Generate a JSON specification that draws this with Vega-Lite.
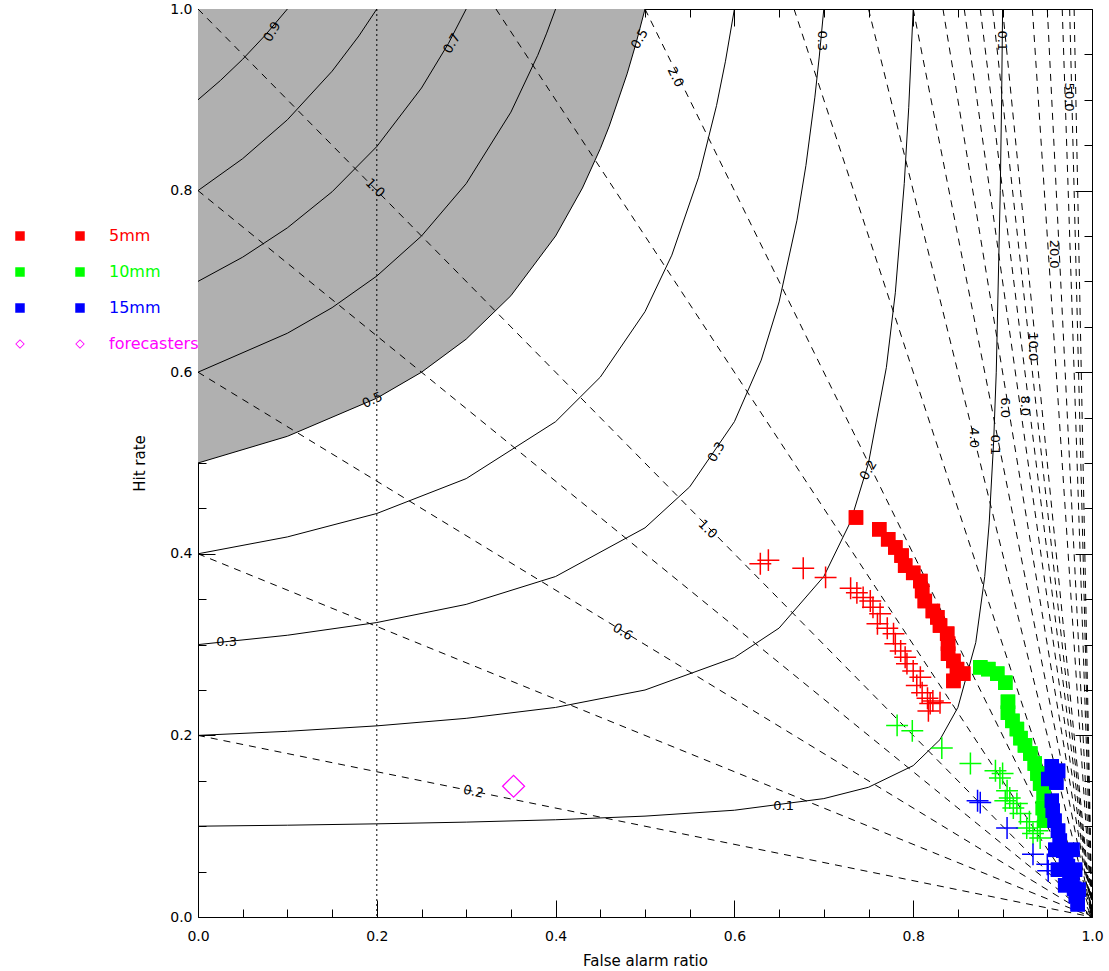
{
  "$schema": "https://vega.github.io/schema/vega-lite/v6.json",
  "autosize": "none",
  "width": 894,
  "height": 908,
  "padding": {"left": 198, "top": 9, "right": 17, "bottom": 54},
  "background": "white",
  "config": {
    "view": {"stroke": null},
    "font": "DejaVu Sans",
    "axis": {"grid": false, "labelFont": "DejaVu Sans", "labelFontSize": 14, "labelColor": "black", "titleFont": "DejaVu Sans", "titleFontSize": 15, "titleFontWeight": "normal", "titleColor": "black", "tickColor": "black", "domainColor": "black", "labelFlush": false, "labelOverlap": false, "zindex": 1}
  },
  "datasets": {
    "csi": [
      {"c": 0.1, "far": 0, "pod": 0.1}, {"c": 0.1, "far": 0.1, "pod": 0.1011}, {"c": 0.1, "far": 0.2, "pod": 0.1026}, {"c": 0.1, "far": 0.3, "pod": 0.1045}, {"c": 0.1, "far": 0.4, "pod": 0.1071}, {"c": 0.1, "far": 0.5, "pod": 0.1111}, {"c": 0.1, "far": 0.6, "pod": 0.1176}, {"c": 0.1, "far": 0.7, "pod": 0.1304}, {"c": 0.1, "far": 0.75, "pod": 0.1429}, {"c": 0.1, "far": 0.8, "pod": 0.1667}, {"c": 0.1, "far": 0.83, "pod": 0.1954}, {"c": 0.1, "far": 0.85, "pod": 0.2308}, {"c": 0.1, "far": 0.87, "pod": 0.3023}, {"c": 0.1, "far": 0.88, "pod": 0.375}, {"c": 0.1, "far": 0.885, "pod": 0.434}, {"c": 0.1, "far": 0.89, "pod": 0.5238}, {"c": 0.1, "far": 0.8929, "pod": 0.6}, {"c": 0.1, "far": 0.8974, "pod": 0.8}, {"c": 0.1, "far": 0.8989, "pod": 0.9}, {"c": 0.1, "far": 0.9, "pod": 1.0},
      {"c": 0.2, "far": 0, "pod": 0.2}, {"c": 0.2, "far": 0.1, "pod": 0.2045}, {"c": 0.2, "far": 0.2, "pod": 0.2105}, {"c": 0.2, "far": 0.3, "pod": 0.2188}, {"c": 0.2, "far": 0.4, "pod": 0.2308}, {"c": 0.2, "far": 0.5, "pod": 0.25}, {"c": 0.2, "far": 0.6, "pod": 0.2857}, {"c": 0.2, "far": 0.65, "pod": 0.3182}, {"c": 0.2, "far": 0.7, "pod": 0.375}, {"c": 0.2, "far": 0.73, "pod": 0.4355}, {"c": 0.2, "far": 0.75, "pod": 0.5}, {"c": 0.2, "far": 0.77, "pod": 0.6053}, {"c": 0.2, "far": 0.78, "pod": 0.6875}, {"c": 0.2, "far": 0.79, "pod": 0.8077}, {"c": 0.2, "far": 0.795, "pod": 0.8913}, {"c": 0.2, "far": 0.8, "pod": 1.0},
      {"c": 0.3, "far": 0, "pod": 0.3}, {"c": 0.3, "far": 0.1, "pod": 0.3103}, {"c": 0.3, "far": 0.2, "pod": 0.3243}, {"c": 0.3, "far": 0.3, "pod": 0.3443}, {"c": 0.3, "far": 0.4, "pod": 0.375}, {"c": 0.3, "far": 0.5, "pod": 0.4286}, {"c": 0.3, "far": 0.55, "pod": 0.4737}, {"c": 0.3, "far": 0.6, "pod": 0.5455}, {"c": 0.3, "far": 0.63, "pod": 0.6133}, {"c": 0.3, "far": 0.65, "pod": 0.6774}, {"c": 0.3, "far": 0.67, "pod": 0.7674}, {"c": 0.3, "far": 0.68, "pod": 0.8276}, {"c": 0.3, "far": 0.69, "pod": 0.9029}, {"c": 0.3, "far": 0.695, "pod": 0.9482}, {"c": 0.3, "far": 0.7, "pod": 1.0},
      {"c": 0.4, "far": 0, "pod": 0.4}, {"c": 0.4, "far": 0.1, "pod": 0.4186}, {"c": 0.4, "far": 0.2, "pod": 0.4444}, {"c": 0.4, "far": 0.3, "pod": 0.4828}, {"c": 0.4, "far": 0.4, "pod": 0.5455}, {"c": 0.4, "far": 0.45, "pod": 0.5946}, {"c": 0.4, "far": 0.5, "pod": 0.6667}, {"c": 0.4, "far": 0.53, "pod": 0.7289}, {"c": 0.4, "far": 0.56, "pod": 0.8148}, {"c": 0.4, "far": 0.58, "pod": 0.8936}, {"c": 0.4, "far": 0.59, "pod": 0.9425}, {"c": 0.4, "far": 0.6, "pod": 1.0},
      {"c": 0.5, "far": 0, "pod": 0.5}, {"c": 0.5, "far": 0.1, "pod": 0.5294}, {"c": 0.5, "far": 0.2, "pod": 0.5714}, {"c": 0.5, "far": 0.25, "pod": 0.6}, {"c": 0.5, "far": 0.3, "pod": 0.6364}, {"c": 0.5, "far": 0.35, "pod": 0.6842}, {"c": 0.5, "far": 0.4, "pod": 0.75}, {"c": 0.5, "far": 0.43, "pod": 0.8028}, {"c": 0.5, "far": 0.45, "pod": 0.8462}, {"c": 0.5, "far": 0.46, "pod": 0.871}, {"c": 0.5, "far": 0.48, "pod": 0.9286}, {"c": 0.5, "far": 0.49, "pod": 0.9623}, {"c": 0.5, "far": 0.5, "pod": 1.0},
      {"c": 0.6, "far": 0, "pod": 0.6}, {"c": 0.6, "far": 0.1, "pod": 0.6429}, {"c": 0.6, "far": 0.15, "pod": 0.6711}, {"c": 0.6, "far": 0.2, "pod": 0.7059}, {"c": 0.6, "far": 0.25, "pod": 0.75}, {"c": 0.6, "far": 0.3, "pod": 0.8077}, {"c": 0.6, "far": 0.35, "pod": 0.8864}, {"c": 0.6, "far": 0.38, "pod": 0.949}, {"c": 0.6, "far": 0.39, "pod": 0.9734}, {"c": 0.6, "far": 0.4, "pod": 1.0},
      {"c": 0.7, "far": 0, "pod": 0.7}, {"c": 0.7, "far": 0.05, "pod": 0.7267}, {"c": 0.7, "far": 0.1, "pod": 0.759}, {"c": 0.7, "far": 0.15, "pod": 0.7987}, {"c": 0.7, "far": 0.2, "pod": 0.8485}, {"c": 0.7, "far": 0.25, "pod": 0.913}, {"c": 0.7, "far": 0.28, "pod": 0.9618}, {"c": 0.7, "far": 0.3, "pod": 1.0},
      {"c": 0.8, "far": 0, "pod": 0.8}, {"c": 0.8, "far": 0.05, "pod": 0.8352}, {"c": 0.8, "far": 0.1, "pod": 0.878}, {"c": 0.8, "far": 0.15, "pod": 0.9315}, {"c": 0.8, "far": 0.18, "pod": 0.9704}, {"c": 0.8, "far": 0.2, "pod": 1.0},
      {"c": 0.9, "far": 0, "pod": 0.9}, {"c": 0.9, "far": 0.025, "pod": 0.9212}, {"c": 0.9, "far": 0.05, "pod": 0.9447}, {"c": 0.9, "far": 0.075, "pod": 0.9709}, {"c": 0.9, "far": 0.1, "pod": 1.0}
    ],
    "bias": [
      {"b": 0.2, "far": 0, "pod": 0.2}, {"b": 0.2, "far": 1, "pod": 0},
      {"b": 0.4, "far": 0, "pod": 0.4}, {"b": 0.4, "far": 1, "pod": 0},
      {"b": 0.6, "far": 0, "pod": 0.6}, {"b": 0.6, "far": 1, "pod": 0},
      {"b": 0.8, "far": 0, "pod": 0.8}, {"b": 0.8, "far": 1, "pod": 0},
      {"b": 1.0, "far": 0, "pod": 1.0}, {"b": 1.0, "far": 1, "pod": 0},
      {"b": 1.5, "far": 0.3333, "pod": 1.0}, {"b": 1.5, "far": 1, "pod": 0},
      {"b": 2, "far": 0.5, "pod": 1.0}, {"b": 2, "far": 1, "pod": 0},
      {"b": 3, "far": 0.6667, "pod": 1.0}, {"b": 3, "far": 1, "pod": 0},
      {"b": 4, "far": 0.75, "pod": 1.0}, {"b": 4, "far": 1, "pod": 0},
      {"b": 5, "far": 0.8, "pod": 1.0}, {"b": 5, "far": 1, "pod": 0},
      {"b": 6, "far": 0.8333, "pod": 1.0}, {"b": 6, "far": 1, "pod": 0},
      {"b": 7, "far": 0.8571, "pod": 1.0}, {"b": 7, "far": 1, "pod": 0},
      {"b": 8, "far": 0.875, "pod": 1.0}, {"b": 8, "far": 1, "pod": 0},
      {"b": 9, "far": 0.8889, "pod": 1.0}, {"b": 9, "far": 1, "pod": 0},
      {"b": 10, "far": 0.9, "pod": 1.0}, {"b": 10, "far": 1, "pod": 0},
      {"b": 15, "far": 0.9333, "pod": 1.0}, {"b": 15, "far": 1, "pod": 0},
      {"b": 20, "far": 0.95, "pod": 1.0}, {"b": 20, "far": 1, "pod": 0},
      {"b": 30, "far": 0.9667, "pod": 1.0}, {"b": 30, "far": 1, "pod": 0},
      {"b": 40, "far": 0.975, "pod": 1.0}, {"b": 40, "far": 1, "pod": 0},
      {"b": 50, "far": 0.98, "pod": 1.0}, {"b": 50, "far": 1, "pod": 0}
    ],
    "squares": [
      {"series": "5mm", "far": 0.736, "pod": 0.44}, {"series": "5mm", "far": 0.762, "pod": 0.427}, {"series": "5mm", "far": 0.772, "pod": 0.416}, {"series": "5mm", "far": 0.78, "pod": 0.407}, {"series": "5mm", "far": 0.787, "pod": 0.398}, {"series": "5mm", "far": 0.791, "pod": 0.387}, {"series": "5mm", "far": 0.8, "pod": 0.379}, {"series": "5mm", "far": 0.808, "pod": 0.37}, {"series": "5mm", "far": 0.81, "pod": 0.359}, {"series": "5mm", "far": 0.813, "pod": 0.348}, {"series": "5mm", "far": 0.822, "pod": 0.337}, {"series": "5mm", "far": 0.827, "pod": 0.33}, {"series": "5mm", "far": 0.83, "pod": 0.321}, {"series": "5mm", "far": 0.838, "pod": 0.312}, {"series": "5mm", "far": 0.839, "pod": 0.301}, {"series": "5mm", "far": 0.839, "pod": 0.29}, {"series": "5mm", "far": 0.845, "pod": 0.282}, {"series": "5mm", "far": 0.849, "pod": 0.273}, {"series": "5mm", "far": 0.856, "pod": 0.268}, {"series": "5mm", "far": 0.845, "pod": 0.26},
      {"series": "10mm", "far": 0.875, "pod": 0.275}, {"series": "10mm", "far": 0.884, "pod": 0.273}, {"series": "10mm", "far": 0.894, "pod": 0.268}, {"series": "10mm", "far": 0.903, "pod": 0.258}, {"series": "10mm", "far": 0.906, "pod": 0.237}, {"series": "10mm", "far": 0.906, "pod": 0.225}, {"series": "10mm", "far": 0.911, "pod": 0.216}, {"series": "10mm", "far": 0.916, "pod": 0.207}, {"series": "10mm", "far": 0.92, "pod": 0.197}, {"series": "10mm", "far": 0.925, "pod": 0.189}, {"series": "10mm", "far": 0.931, "pod": 0.18}, {"series": "10mm", "far": 0.936, "pod": 0.169}, {"series": "10mm", "far": 0.939, "pod": 0.158}, {"series": "10mm", "far": 0.942, "pod": 0.147}, {"series": "10mm", "far": 0.946, "pod": 0.136}, {"series": "10mm", "far": 0.945, "pod": 0.12}, {"series": "10mm", "far": 0.947, "pod": 0.106},
      {"series": "15mm", "far": 0.955, "pod": 0.166}, {"series": "15mm", "far": 0.962, "pod": 0.161}, {"series": "15mm", "far": 0.951, "pod": 0.152}, {"series": "15mm", "far": 0.96, "pod": 0.148}, {"series": "15mm", "far": 0.955, "pod": 0.128}, {"series": "15mm", "far": 0.956, "pod": 0.117}, {"series": "15mm", "far": 0.958, "pod": 0.106}, {"series": "15mm", "far": 0.962, "pod": 0.095}, {"series": "15mm", "far": 0.964, "pod": 0.084}, {"series": "15mm", "far": 0.959, "pod": 0.074}, {"series": "15mm", "far": 0.978, "pod": 0.074}, {"series": "15mm", "far": 0.968, "pod": 0.073}, {"series": "15mm", "far": 0.971, "pod": 0.064}, {"series": "15mm", "far": 0.973, "pod": 0.056}, {"series": "15mm", "far": 0.962, "pod": 0.052}, {"series": "15mm", "far": 0.981, "pod": 0.052}, {"series": "15mm", "far": 0.975, "pod": 0.049}, {"series": "15mm", "far": 0.978, "pod": 0.04}, {"series": "15mm", "far": 0.97, "pod": 0.035}, {"series": "15mm", "far": 0.985, "pod": 0.03}, {"series": "15mm", "far": 0.98, "pod": 0.031}, {"series": "15mm", "far": 0.982, "pod": 0.023}, {"series": "15mm", "far": 0.984, "pod": 0.014}
    ],
    "crosses": [
      {"series": "5mm", "far": 0.629, "pod": 0.389}, {"series": "5mm", "far": 0.638, "pod": 0.393}, {"series": "5mm", "far": 0.677, "pod": 0.384}, {"series": "5mm", "far": 0.702, "pod": 0.374}, {"series": "5mm", "far": 0.73, "pod": 0.362}, {"series": "5mm", "far": 0.737, "pod": 0.357}, {"series": "5mm", "far": 0.744, "pod": 0.352}, {"series": "5mm", "far": 0.752, "pod": 0.348}, {"series": "5mm", "far": 0.755, "pod": 0.341}, {"series": "5mm", "far": 0.763, "pod": 0.334}, {"series": "5mm", "far": 0.76, "pod": 0.323}, {"series": "5mm", "far": 0.771, "pod": 0.318}, {"series": "5mm", "far": 0.778, "pod": 0.312}, {"series": "5mm", "far": 0.78, "pod": 0.301}, {"series": "5mm", "far": 0.786, "pod": 0.293}, {"series": "5mm", "far": 0.791, "pod": 0.286}, {"series": "5mm", "far": 0.793, "pod": 0.279}, {"series": "5mm", "far": 0.8, "pod": 0.271}, {"series": "5mm", "far": 0.808, "pod": 0.264}, {"series": "5mm", "far": 0.804, "pod": 0.255}, {"series": "5mm", "far": 0.81, "pod": 0.247}, {"series": "5mm", "far": 0.816, "pod": 0.241}, {"series": "5mm", "far": 0.819, "pod": 0.235}, {"series": "5mm", "far": 0.822, "pod": 0.238}, {"series": "5mm", "far": 0.817, "pod": 0.227}, {"series": "5mm", "far": 0.83, "pod": 0.236},
      {"series": "10mm", "far": 0.782, "pod": 0.211}, {"series": "10mm", "far": 0.799, "pod": 0.205}, {"series": "10mm", "far": 0.832, "pod": 0.186}, {"series": "10mm", "far": 0.864, "pod": 0.169}, {"series": "10mm", "far": 0.892, "pod": 0.161}, {"series": "10mm", "far": 0.9, "pod": 0.158}, {"series": "10mm", "far": 0.897, "pod": 0.153}, {"series": "10mm", "far": 0.905, "pod": 0.139}, {"series": "10mm", "far": 0.908, "pod": 0.131}, {"series": "10mm", "far": 0.903, "pod": 0.128}, {"series": "10mm", "far": 0.916, "pod": 0.125}, {"series": "10mm", "far": 0.912, "pod": 0.12}, {"series": "10mm", "far": 0.92, "pod": 0.114}, {"series": "10mm", "far": 0.93, "pod": 0.105}, {"series": "10mm", "far": 0.927, "pod": 0.098}, {"series": "10mm", "far": 0.939, "pod": 0.095}, {"series": "10mm", "far": 0.934, "pod": 0.092}, {"series": "10mm", "far": 0.942, "pod": 0.087},
      {"series": "15mm", "far": 0.872, "pod": 0.128}, {"series": "15mm", "far": 0.875, "pod": 0.126}, {"series": "15mm", "far": 0.905, "pod": 0.098}, {"series": "15mm", "far": 0.934, "pod": 0.069}, {"series": "15mm", "far": 0.95, "pod": 0.058}, {"series": "15mm", "far": 0.951, "pod": 0.051}
    ],
    "fc": [{"series": "forecasters", "far": 0.353, "pod": 0.144}],
    "lab0": [{"t": "0.3", "far": 0.032, "pod": 0.303}, {"t": "0.1", "far": 0.655, "pod": 0.122}],
    "lab15": [{"t": "0.2", "far": 0.308, "pod": 0.138}],
    "lab30": [{"t": "0.6", "far": 0.475, "pod": 0.314}],
    "lab45": [{"t": "1.0", "far": 0.198, "pod": 0.803}, {"t": "1.0", "far": 0.57, "pod": 0.427}],
    "lab60": [{"t": "2.0", "far": 0.534, "pod": 0.925}],
    "lab90": [{"t": "4.0", "far": 0.868, "pod": 0.528}, {"t": "6.0", "far": 0.903, "pod": 0.561}, {"t": "8.0", "far": 0.925, "pod": 0.563}, {"t": "10.0", "far": 0.934, "pod": 0.628}, {"t": "20.0", "far": 0.957, "pod": 0.73}, {"t": "50.0", "far": 0.974, "pod": 0.903}, {"t": "0.1", "far": 0.891, "pod": 0.52}, {"t": "0.3", "far": 0.698, "pod": 0.965}, {"t": "0.1", "far": 0.899, "pod": 0.965}],
    "labm25": [{"t": "0.5", "far": 0.195, "pod": 0.569}],
    "labm60": [{"t": "0.9", "far": 0.083, "pod": 0.975}, {"t": "0.7", "far": 0.284, "pod": 0.962}, {"t": "0.5", "far": 0.494, "pod": 0.967}, {"t": "0.3", "far": 0.58, "pod": 0.512}, {"t": "0.2", "far": 0.75, "pod": 0.492}]
  },
  "resolve": {"scale": {"color": "independent", "shape": "independent"}, "axis": {"x": "independent", "y": "independent"}},
  "layer": [
    {
      "data": {"name": "csi"},
      "transform": [{"filter": "datum.c == 0.5"}],
      "mark": {"type": "area", "color": "#b0b0b0", "opacity": 1},
      "encoding": {
        "x": {"field": "far", "type": "quantitative", "scale": {"domain": [0, 1], "nice": false, "zero": false},
              "axis": {"orient": "bottom", "values": [0, 0.2, 0.4, 0.6, 0.8, 1], "format": ".1f", "ticks": false, "domain": true, "labelPadding": 12, "title": "False alarm ratio", "titlePadding": 10}},
        "y": {"field": "pod", "type": "quantitative", "scale": {"domain": [0, 1], "nice": false, "zero": false},
              "axis": {"orient": "left", "values": [0, 0.2, 0.4, 0.6, 0.8, 1], "format": ".1f", "ticks": false, "domain": true, "labelPadding": 6, "title": "Hit rate", "titlePadding": 22}},
        "y2": {"datum": 1}
      }
    },
    {
      "data": {"name": "csi"},
      "mark": {"type": "line", "color": "black", "strokeWidth": 1},
      "encoding": {
        "x": {"field": "far", "type": "quantitative", "axis": {"orient": "bottom", "values": [0, 0.2, 0.4, 0.6, 0.8, 1], "labels": false, "tickSize": -17, "domain": false, "title": null}},
        "y": {"field": "pod", "type": "quantitative", "axis": {"orient": "left", "values": [0, 0.2, 0.4, 0.6, 0.8, 1], "labels": false, "tickSize": -17, "domain": false, "title": null}},
        "detail": {"field": "c", "type": "nominal"}
      }
    },
    {
      "data": {"name": "bias"},
      "mark": {"type": "line", "color": "black", "strokeWidth": 1, "strokeDash": [7, 6]},
      "encoding": {
        "x": {"field": "far", "type": "quantitative", "axis": {"orient": "bottom", "values": [0.05, 0.1, 0.15, 0.25, 0.3, 0.35, 0.45, 0.5, 0.55, 0.65, 0.7, 0.75, 0.85, 0.9, 0.95], "labels": false, "tickSize": -8, "domain": false, "title": null}},
        "y": {"field": "pod", "type": "quantitative", "axis": {"orient": "left", "values": [0.05, 0.1, 0.15, 0.25, 0.3, 0.35, 0.45, 0.5, 0.55, 0.65, 0.7, 0.75, 0.85, 0.9, 0.95], "labels": false, "tickSize": -8, "domain": false, "title": null}},
        "detail": {"field": "b", "type": "nominal"}
      }
    },
    {
      "data": {"values": [{}]},
      "mark": {"type": "rule", "color": "black", "strokeWidth": 1, "strokeDash": [2, 3]},
      "encoding": {"x": {"datum": 0.2, "type": "quantitative", "axis": null}}
    },
    {"data": {"name": "lab0"}, "mark": {"type": "text", "fontSize": 13, "color": "black", "angle": 0},
     "encoding": {"x": {"field": "far", "type": "quantitative", "axis": null}, "y": {"field": "pod", "type": "quantitative", "axis": null}, "text": {"field": "t"}}},
    {"data": {"name": "lab15"}, "mark": {"type": "text", "fontSize": 13, "color": "black", "angle": 12},
     "encoding": {"x": {"field": "far", "type": "quantitative", "axis": null}, "y": {"field": "pod", "type": "quantitative", "axis": null}, "text": {"field": "t"}}},
    {"data": {"name": "lab30"}, "mark": {"type": "text", "fontSize": 13, "color": "black", "angle": 31},
     "encoding": {"x": {"field": "far", "type": "quantitative", "axis": null}, "y": {"field": "pod", "type": "quantitative", "axis": null}, "text": {"field": "t"}}},
    {"data": {"name": "lab45"}, "mark": {"type": "text", "fontSize": 13, "color": "black", "angle": 45},
     "encoding": {"x": {"field": "far", "type": "quantitative", "axis": null}, "y": {"field": "pod", "type": "quantitative", "axis": null}, "text": {"field": "t"}}},
    {"data": {"name": "lab60"}, "mark": {"type": "text", "fontSize": 13, "color": "black", "angle": 63},
     "encoding": {"x": {"field": "far", "type": "quantitative", "axis": null}, "y": {"field": "pod", "type": "quantitative", "axis": null}, "text": {"field": "t"}}},
    {"data": {"name": "lab90"}, "mark": {"type": "text", "fontSize": 13, "color": "black", "angle": 90},
     "encoding": {"x": {"field": "far", "type": "quantitative", "axis": null}, "y": {"field": "pod", "type": "quantitative", "axis": null}, "text": {"field": "t"}}},
    {"data": {"name": "labm25"}, "mark": {"type": "text", "fontSize": 13, "color": "black", "angle": -25},
     "encoding": {"x": {"field": "far", "type": "quantitative", "axis": null}, "y": {"field": "pod", "type": "quantitative", "axis": null}, "text": {"field": "t"}}},
    {"data": {"name": "labm60"}, "mark": {"type": "text", "fontSize": 13, "color": "black", "angle": -60},
     "encoding": {"x": {"field": "far", "type": "quantitative", "axis": null}, "y": {"field": "pod", "type": "quantitative", "axis": null}, "text": {"field": "t"}}},
    {
      "data": {"name": "fc"},
      "mark": {"type": "point", "shape": "diamond", "filled": false, "size": 484, "color": "#ff00ff", "strokeWidth": 1.2, "opacity": 1},
      "encoding": {"x": {"field": "far", "type": "quantitative", "axis": null}, "y": {"field": "pod", "type": "quantitative", "axis": null}}
    },
    {
      "data": {"name": "crosses"},
      "mark": {"type": "point", "shape": "M-1,0L1,0M0,-1L0,1", "filled": false, "size": 480, "strokeWidth": 1.5, "opacity": 1},
      "encoding": {
        "x": {"field": "far", "type": "quantitative", "axis": {"orient": "top", "values": [0, 0.2, 0.4, 0.6, 0.8, 1], "labels": false, "tickSize": -17, "domain": true, "title": null}},
        "y": {"field": "pod", "type": "quantitative", "axis": {"orient": "right", "values": [0, 0.2, 0.4, 0.6, 0.8, 1], "labels": false, "tickSize": -17, "domain": true, "title": null}},
        "color": {"field": "series", "type": "nominal", "legend": null,
          "scale": {"domain": ["5mm", "10mm", "15mm", "forecasters"], "range": ["#ff0000", "#00ff00", "#0000ff", "#ff00ff"]}}
      }
    },
    {
      "data": {"name": "squares"},
      "mark": {"type": "point", "filled": true, "size": 210, "opacity": 1, "strokeWidth": 0},
      "encoding": {
        "x": {"field": "far", "type": "quantitative", "axis": {"orient": "top", "values": [0.05, 0.1, 0.15, 0.25, 0.3, 0.35, 0.45, 0.5, 0.55, 0.65, 0.7, 0.75, 0.85, 0.9, 0.95], "labels": false, "tickSize": -8, "domain": false, "title": null}},
        "y": {"field": "pod", "type": "quantitative", "axis": {"orient": "right", "values": [0.05, 0.1, 0.15, 0.25, 0.3, 0.35, 0.45, 0.5, 0.55, 0.65, 0.7, 0.75, 0.85, 0.9, 0.95], "labels": false, "tickSize": -8, "domain": false, "title": null}},
        "color": {"field": "series", "type": "nominal",
          "scale": {"domain": ["5mm", "10mm", "15mm", "forecasters"], "range": ["#ff0000", "#00ff00", "#0000ff", "#ff00ff"]},
          "legend": {"orient": "none", "legendX": -186, "legendY": 219, "title": null, "padding": 0, "symbolSize": 90, "labelFontSize": 16, "labelExpr": "''", "labelOffset": 4, "rowPadding": 20}},
        "shape": {"field": "series", "type": "nominal",
          "scale": {"domain": ["5mm", "10mm", "15mm", "forecasters"], "range": ["square", "square", "square", "M0,-1L1,0L0,1L-1,0ZM0,-0.76L-0.76,0L0,0.76L0.76,0Z"]},
          "legend": {"orient": "none", "legendX": -186, "legendY": 219, "title": null, "padding": 0, "symbolSize": 90, "labelFontSize": 16, "labelExpr": "''", "labelOffset": 4, "rowPadding": 20}}
      }
    },
    {
      "data": {"name": "squares"},
      "mark": {"type": "point", "filled": true, "size": 210, "opacity": 1, "strokeWidth": 0},
      "encoding": {
        "x": {"field": "far", "type": "quantitative", "axis": null},
        "y": {"field": "pod", "type": "quantitative", "axis": null},
        "color": {"field": "series", "type": "nominal",
          "scale": {"domain": ["5mm", "10mm", "15mm", "forecasters"], "range": ["#ff0000", "#00ff00", "#0000ff", "#ff00ff"]},
          "legend": {"orient": "none", "legendX": -126, "legendY": 219, "title": null, "padding": 0, "symbolSize": 90, "labelFontSize": 16, "labelOffset": 21, "rowPadding": 20,
                     "labelColor": {"expr": "datum.value === '5mm' ? '#ff0000' : datum.value === '10mm' ? '#00ff00' : datum.value === '15mm' ? '#0000ff' : '#ff00ff'"}}},
        "shape": {"field": "series", "type": "nominal",
          "scale": {"domain": ["5mm", "10mm", "15mm", "forecasters"], "range": ["square", "square", "square", "M0,-1L1,0L0,1L-1,0ZM0,-0.76L-0.76,0L0,0.76L0.76,0Z"]},
          "legend": {"orient": "none", "legendX": -126, "legendY": 219, "title": null, "padding": 0, "symbolSize": 90, "labelFontSize": 16, "labelOffset": 21, "rowPadding": 20,
                     "labelColor": {"expr": "datum.value === '5mm' ? '#ff0000' : datum.value === '10mm' ? '#00ff00' : datum.value === '15mm' ? '#0000ff' : '#ff00ff'"}}}
      }
    }
  ]
}
